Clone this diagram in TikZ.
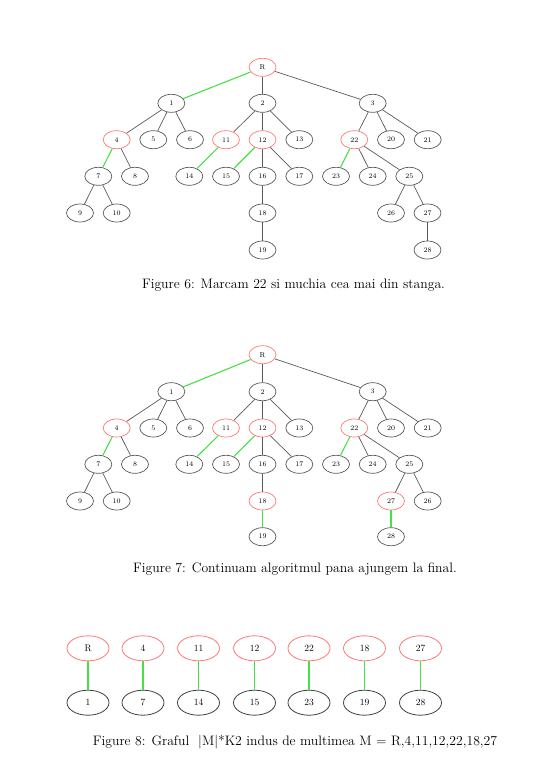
\documentclass[tikz,border=0pt]{standalone}
\usepackage{tikz}
\usetikzlibrary{shapes.geometric}

\definecolor{matchgreen}{RGB}{70,225,70}
\definecolor{markred}{RGB}{255,120,120}

\tikzset{
  vtx/.style={ellipse, draw=black!65, line width=0.7pt, minimum width=27pt, minimum height=18pt, inner sep=0pt, font=\fontsize{7}{8}\selectfont},
  marked/.style={vtx, draw=markred},
  bigvtx/.style={ellipse, draw=black!75, line width=0.8pt, minimum width=42pt, minimum height=25pt, inner sep=0pt, font=\fontsize{9.5}{10}\selectfont},
  bigmarked/.style={bigvtx, draw=markred},
  edge/.style={black!65, line width=0.7pt},
  match/.style={matchgreen, line width=1.1pt},
  caption/.style={font=\fontsize{13.7}{15}\selectfont}
}

\begin{document}
\begin{tikzpicture}[x=1pt,y=-1pt]
\useasboundingbox (0,0) rectangle (552,780);
% ---- figure 6 ----
% draws vertices
\node[marked] (aR) at (262.5,67.3) {R};
\node[vtx] (a1) at (171.3,103.3) {1};
\node[vtx] (a2) at (262.5,103.3) {2};
\node[vtx] (a3) at (372.7,103.3) {3};
\node[marked] (a4) at (116.7,139.7) {4};
\node[vtx] (a5) at (153.3,139.7) {5};
\node[vtx] (a6) at (190,139.7) {6};
\node[marked] (a11) at (226,139.7) {11};
\node[marked] (a12) at (262.5,139.7) {12};
\node[vtx] (a13) at (299.3,139.7) {13};
\node[marked] (a22) at (354.3,139.7) {22};
\node[vtx] (a20) at (391,139.7) {20};
\node[vtx] (a21) at (427.7,139.7) {21};
\node[vtx] (a7) at (98.3,176.3) {7};
\node[vtx] (a8) at (135,176.3) {8};
\node[vtx] (a14) at (189.3,176.3) {14};
\node[vtx] (a15) at (226,176.3) {15};
\node[vtx] (a16) at (262.5,176.3) {16};
\node[vtx] (a17) at (299.3,176.3) {17};
\node[vtx] (a23) at (336,176.3) {23};
\node[vtx] (a24) at (372.7,176.3) {24};
\node[vtx] (a25) at (409.3,176.3) {25};
\node[vtx] (a9) at (80,213) {9};
\node[vtx] (a10) at (116.7,213) {10};
\node[vtx] (a18) at (262.5,213) {18};
\node[vtx] (a26) at (391,213) {26};
\node[vtx] (a27) at (427.5,213) {27};
\node[vtx] (a19) at (262.5,250) {19};
\node[vtx] (a28) at (427.5,250) {28};
% draws edges
\draw[match] (aR) -- (a1);
\draw[edge] (aR) -- (a2);
\draw[edge] (aR) -- (a3);
\draw[edge] (a1) -- (a4);
\draw[edge] (a1) -- (a5);
\draw[edge] (a1) -- (a6);
\draw[edge] (a2) -- (a11);
\draw[edge] (a2) -- (a12);
\draw[edge] (a2) -- (a13);
\draw[edge] (a3) -- (a22);
\draw[edge] (a3) -- (a20);
\draw[edge] (a3) -- (a21);
\draw[match] (a4) -- (a7);
\draw[edge] (a4) -- (a8);
\draw[match] (a11) -- (a14);
\draw[match] (a12) -- (a15);
\draw[edge] (a12) -- (a16);
\draw[edge] (a12) -- (a17);
\draw[match] (a22) -- (a23);
\draw[edge] (a22) -- (a24);
\draw[edge] (a22) -- (a25);
\draw[edge] (a7) -- (a9);
\draw[edge] (a7) -- (a10);
\draw[edge] (a16) -- (a18);
\draw[edge] (a25) -- (a26);
\draw[edge] (a25) -- (a27);
\draw[edge] (a18) -- (a19);
\draw[edge] (a27) -- (a28);
\node[caption] (cap6) at (293.5,285) {Figure 6: Marcam 22 si muchia cea mai din stanga.};
% ---- figure 7 ----
% draws vertices
\node[marked] (bR) at (262.5,354.7) {R};
\node[vtx] (b1) at (171.3,391.7) {1};
\node[vtx] (b2) at (262.5,391.7) {2};
\node[vtx] (b3) at (372.7,391.7) {3};
\node[marked] (b4) at (116.7,428) {4};
\node[vtx] (b5) at (153.3,428) {5};
\node[vtx] (b6) at (190,428) {6};
\node[marked] (b11) at (226,428) {11};
\node[marked] (b12) at (262.5,428) {12};
\node[vtx] (b13) at (299.3,428) {13};
\node[marked] (b22) at (354.3,428) {22};
\node[vtx] (b20) at (391,428) {20};
\node[vtx] (b21) at (427.7,428) {21};
\node[vtx] (b7) at (98.3,464.3) {7};
\node[vtx] (b8) at (135,464.3) {8};
\node[vtx] (b14) at (189.3,464.3) {14};
\node[vtx] (b15) at (226,464.3) {15};
\node[vtx] (b16) at (262.5,464.3) {16};
\node[vtx] (b17) at (299.3,464.3) {17};
\node[vtx] (b23) at (336,464.3) {23};
\node[vtx] (b24) at (372.7,464.3) {24};
\node[vtx] (b25) at (409.3,464.3) {25};
\node[vtx] (b9) at (80,501) {9};
\node[vtx] (b10) at (116.7,501) {10};
\node[marked] (b18) at (262.5,501) {18};
\node[marked] (b27) at (391,501) {27};
\node[vtx] (b26) at (427.7,501) {26};
\node[vtx] (b19) at (262.5,536.7) {19};
\node[vtx] (b28) at (391,536.7) {28};
% draws edges
\draw[match] (bR) -- (b1);
\draw[edge] (bR) -- (b2);
\draw[edge] (bR) -- (b3);
\draw[edge] (b1) -- (b4);
\draw[edge] (b1) -- (b5);
\draw[edge] (b1) -- (b6);
\draw[edge] (b2) -- (b11);
\draw[edge] (b2) -- (b12);
\draw[edge] (b2) -- (b13);
\draw[edge] (b3) -- (b22);
\draw[edge] (b3) -- (b20);
\draw[edge] (b3) -- (b21);
\draw[match] (b4) -- (b7);
\draw[edge] (b4) -- (b8);
\draw[match] (b11) -- (b14);
\draw[match] (b12) -- (b15);
\draw[edge] (b12) -- (b16);
\draw[edge] (b12) -- (b17);
\draw[match] (b22) -- (b23);
\draw[edge] (b22) -- (b24);
\draw[edge] (b22) -- (b25);
\draw[edge] (b7) -- (b9);
\draw[edge] (b7) -- (b10);
\draw[edge] (b16) -- (b18);
\draw[edge] (b25) -- (b27);
\draw[edge] (b25) -- (b26);
\draw[match] (b18) -- (b19);
\draw[match] (b27) -- (b28);
\node[caption] (cap7) at (295,569) {Figure 7: Continuam algoritmul pana ajungem la final.};
% ---- figure 8 ----
% draws vertices
\node[bigmarked] (cR) at (88,648.3) {R};
\node[bigmarked] (c4) at (143,648.3) {4};
\node[bigmarked] (c11) at (198.5,648.3) {11};
\node[bigmarked] (c12) at (254.5,648.3) {12};
\node[bigmarked] (c22) at (309,648.3) {22};
\node[bigmarked] (c18) at (364.5,648.3) {18};
\node[bigmarked] (c27) at (420.5,648.3) {27};
\node[bigvtx] (c1) at (88,702.7) {1};
\node[bigvtx] (c7) at (143,702.7) {7};
\node[bigvtx] (c14) at (198.5,702.7) {14};
\node[bigvtx] (c15) at (254.5,702.7) {15};
\node[bigvtx] (c23) at (309,702.7) {23};
\node[bigvtx] (c19) at (364.5,702.7) {19};
\node[bigvtx] (c28) at (420.5,702.7) {28};
% draws edges
\draw[match] (cR) -- (c1);
\draw[match] (c4) -- (c7);
\draw[match] (c11) -- (c14);
\draw[match] (c12) -- (c15);
\draw[match] (c22) -- (c23);
\draw[match] (c18) -- (c19);
\draw[match] (c27) -- (c28);
\node[caption] (cap8) at (295,742) {Figure 8: Graful \ |M|*K2 indus de multimea M = R,4,11,12,22,18,27};
\end{tikzpicture}
\end{document}
